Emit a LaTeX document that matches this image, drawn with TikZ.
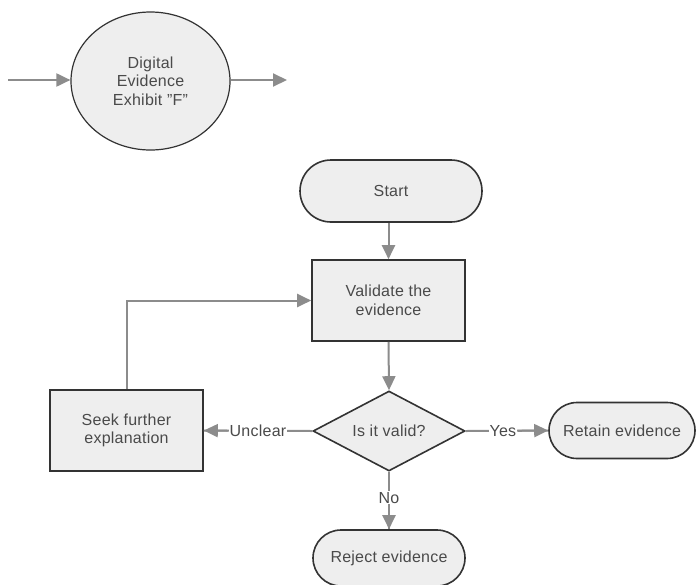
\documentclass[tikz,border=0pt]{standalone}
\usepackage{fontspec}
\setmainfont[LetterSpace=1.5]{Liberation Sans}
\usetikzlibrary{shapes.geometric,shapes.misc,arrows.meta}

\definecolor{boxfill}{HTML}{EEEEEE}
\definecolor{boxline}{HTML}{333333}
\definecolor{flowline}{HTML}{8C8C8C}
\definecolor{txt}{HTML}{4A4A4A}

\tikzset{
  base/.style={draw=boxline, line width=1.6pt, fill=boxfill, text=txt,
    font=\fontsize{16}{18.5}\selectfont, align=center, inner sep=0pt},
  procbox/.style={base, rectangle, minimum width=153pt, minimum height=81pt},
  terminal/.style={base, rounded rectangle, minimum height=#1},
  terminal/.default=57pt,
  decision/.style={base, diamond, minimum width=152pt, minimum height=80pt, aspect=1.9},
  exhibit/.style={base, ellipse, minimum width=159pt, minimum height=138pt, line width=1.2pt},
  flow/.style={draw=flowline, line width=2pt,
    -{Triangle[length=14pt,width=13pt,fill=flowline]}},
  plain/.style={draw=flowline, line width=2pt},
  lbl/.style={fill=white, text=txt, font=\fontsize{16}{18}\selectfont, inner sep=1pt}
}

\begin{document}
\begin{tikzpicture}[x=1pt,y=-1pt]
  \useasboundingbox (0,0) rectangle (698,584);

  % exhibit marker with its in and out arrows
  \node[exhibit] (ex) at (150.5,81) {Digital\\Evidence\\Exhibit "F"};
  \coordinate (exin) at (8,80);
  \coordinate (exout) at (287,80);
  \draw[flow] (exin) -- (ex.west |- exin);
  \draw[flow] (ex.east |- exout) -- (exout);

  % flowchart
  \node[terminal=62pt, minimum width=182pt] (start) at (391,191) {Start};
  \node[procbox] (valid) at (388.5,300.5) {Validate the\\evidence};
  \node[decision] (dec) at (389,431) {Is it valid?};
  \node[procbox] (seek) at (126.5,430.5) {Seek further\\explanation};
  \node[terminal=56pt, minimum width=146pt] (retain) at (622,430.5) {Retain evidence};
  \node[terminal=56pt, minimum width=152pt] (reject) at (389,558) {Reject evidence};

  \draw[flow] (start.south -| valid) -- (valid.north);
  \draw[flow] (valid.south) -- (dec.north);

  \draw[plain] (dec.east) -- node[lbl, pos=0.45] (yes) {Yes} (retain.west);
  \draw[flow] (yes.east) -- (retain.west);

  \draw[plain] (dec.west) -- node[lbl, pos=0.5] (unclear) {Unclear} (seek.east);
  \draw[flow] (unclear.west) -- (seek.east);

  \draw[plain] (dec.south) -- node[lbl, pos=0.45] (no) {No} (reject.north);
  \draw[flow] (no.south) -- (reject.north);

  \draw[flow] (seek.north) |- (valid.west);
\end{tikzpicture}
\end{document}
